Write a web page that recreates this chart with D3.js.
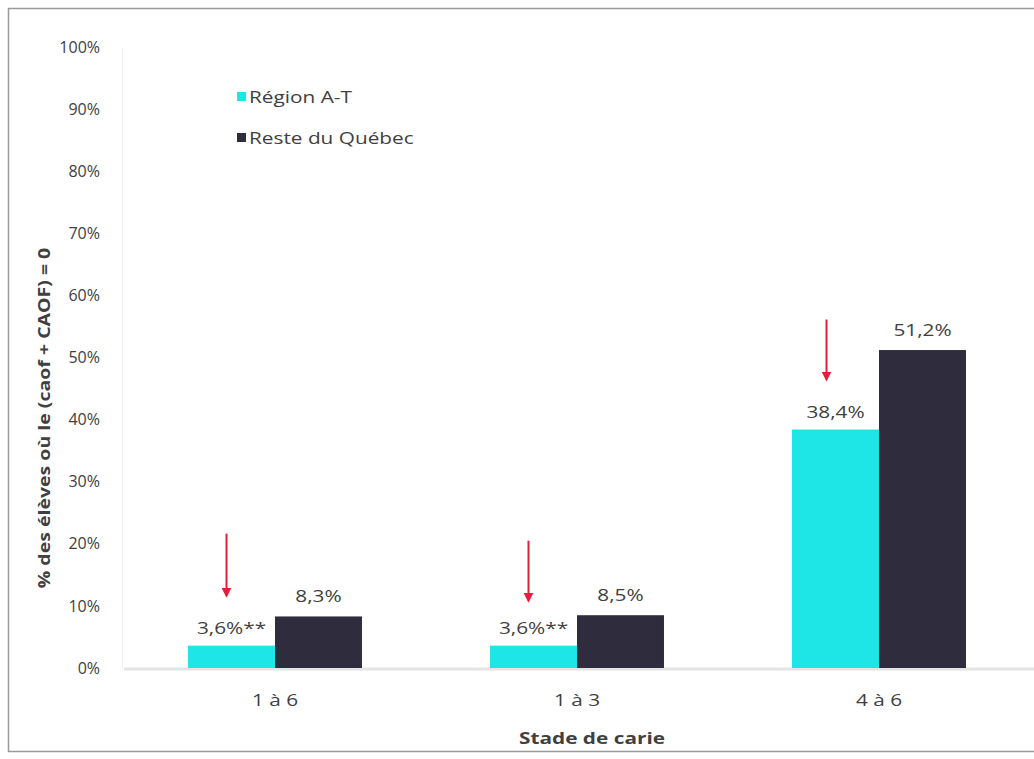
<!DOCTYPE html>
<html><head><meta charset="utf-8">
<script src="https://cdn.jsdelivr.net/npm/d3@7"></script>
<style>body{margin:0;background:#fff}svg{display:block}text{font-family:"Open Sans",sans-serif}</style>
</head><body><svg id="c" width="1034" height="759"></svg>
<script>
const categories = ["1 à 6", "1 à 3", "4 à 6"];
const seriesNames = ["Région A-T", "Reste du Québec"];
const regionAT = [3.6, 3.6, 38.4];
const resteQC = [8.3, 8.5, 51.2];
const labelsAT = ["3,6%**", "3,6%**", "38,4%"];
const labelsQC = ["8,3%", "8,5%", "51,2%"];
const yTicks = [0,10,20,30,40,50,60,70,80,90,100];
const colors = ["#1ee6e6", "#2f2c3d"];
const SX = 1.3;

const svg = d3.select("#c");
svg.append("rect").attr("x",8.5).attr("y",8.5).attr("width",1040).attr("height",743)
  .attr("fill","#fff").attr("stroke","#9a9a9a").attr("stroke-width",1.5);

const x0 = d3.scaleBand().domain(categories).range([124,1030]);
const x1 = d3.scaleBand().domain(seriesNames).range([0, x0.bandwidth()]).paddingOuter(0.736);
const y = d3.scaleLinear().domain([0,100]).range([668,47]);

// y axis
const ya = svg.append("g").attr("transform","translate(122,0)")
  .call(d3.axisLeft(y).tickValues(yTicks).tickFormat(d=>d+"%").tickSize(0).tickPadding(22));
ya.select(".domain").attr("stroke","#ececec");
ya.selectAll("text").attr("font-size",16).attr("fill","#404040");

// baseline
svg.append("line").attr("x1",124).attr("x2",1034).attr("y1",669).attr("y2",669)
  .attr("stroke","#e4e4e4").attr("stroke-width",3);

// helper: stretched text
function stext(g, x, yy, txt, size, weight, anchor){
  return g.append("text").attr("transform",`translate(${x},${yy}) scale(${SX},1)`)
    .attr("text-anchor",anchor||"middle").attr("font-size",size)
    .attr("font-weight",weight||"normal").attr("fill","#404040").text(txt);
}

// x category labels
const xg = svg.append("g");
categories.forEach(c=>stext(xg, x0(c)+x0.bandwidth()/2, 706, c, 16));

const data = categories.map((c,i)=>[
  {cat:c, s:seriesNames[0], v:regionAT[i], lab:labelsAT[i]},
  {cat:c, s:seriesNames[1], v:resteQC[i], lab:labelsQC[i]}]).flat();
const col = d3.scaleOrdinal().domain(seriesNames).range(colors);

svg.append("g").selectAll("rect").data(data).join("rect")
  .attr("x",d=>x0(d.cat)+x1(d.s)).attr("width",x1.bandwidth())
  .attr("y",d=>y(d.v)).attr("height",d=>y(0)-y(d.v))
  .attr("fill",d=>col(d.s));

const lg0 = svg.append("g");
data.forEach(d=>stext(lg0, x0(d.cat)+x1(d.s)+x1.bandwidth()/2,
  y(d.v)-(d.s===seriesNames[0]?12:14), d.lab, 16));

// red arrows above Région A-T labels
const arrowData = categories.map((c,i)=>({cat:c, v:regionAT[i]}));
const defs = svg.append("defs");
defs.append("marker").attr("id","ah").attr("viewBox","0 0 10 10").attr("refX",8).attr("refY",5)
  .attr("markerWidth",5).attr("markerHeight",5).attr("orient","auto")
  .append("path").attr("d","M0,0 L10,5 L0,10 Z").attr("fill","#e0203c");
svg.append("g").selectAll("line").data(arrowData).join("line")
  .attr("x1",(d,i)=>x0(d.cat)+x1(seriesNames[0])+x1.bandwidth()/2-(i===2?9:5))
  .attr("x2",(d,i)=>x0(d.cat)+x1(seriesNames[0])+x1.bandwidth()/2-(i===2?9:5))
  .attr("y1",(d,i)=>y(d.v)-(i===2?110:112)+(i===1?7:0))
  .attr("y2",(d,i)=>y(d.v)-50+(i===1?5:0))
  .attr("stroke","#e0203c").attr("stroke-width",2).attr("marker-end","url(#ah)");

// axis titles
svg.append("text").attr("transform",`translate(50,418) rotate(-90) scale(1.22,1)`).attr("text-anchor","middle")
  .attr("font-size",16).attr("font-weight","bold").attr("fill","#404040")
  .text("% des élèves où le (caof + CAOF) = 0");
stext(svg, 592, 744, "Stade de carie", 16, "bold");

// legend
const lg = svg.append("g").selectAll("g").data(seriesNames).join("g")
  .attr("transform",(d,i)=>`translate(237,${97+i*41})`);
lg.append("rect").attr("x",0).attr("y",-5).attr("width",9).attr("height",9).attr("fill",d=>col(d));
lg.each(function(d){ stext(d3.select(this), 12, 6, d, 16, "normal", "start"); });
</script></body></html>
